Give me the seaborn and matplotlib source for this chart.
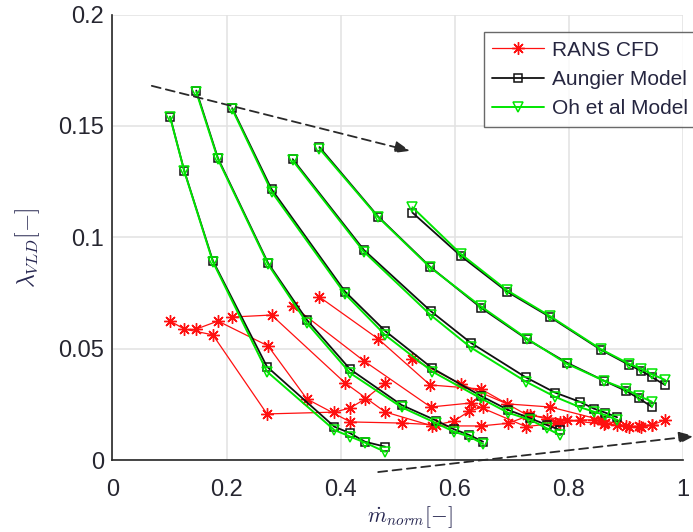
import matplotlib
matplotlib.use("Agg")
import matplotlib.pyplot as plt
from matplotlib.lines import Line2D
import pandas as pd
import seaborn as sns

# Normalised mass flow of each speed line (shared by the CFD runs and both loss models)
m_A = [0.101, 0.126, 0.176, 0.271, 0.389, 0.417, 0.443, 0.478]
m_B = [0.147, 0.185, 0.273, 0.341, 0.417, 0.507, 0.568, 0.599, 0.626, 0.650]
m_C = [0.210, 0.279, 0.408, 0.478, 0.561, 0.646, 0.694, 0.733, 0.762, 0.785]
m_D = [0.316, 0.441, 0.558, 0.628, 0.725, 0.776, 0.820, 0.844, 0.864, 0.885]
m_E = [0.363, 0.466, 0.557, 0.646, 0.727, 0.797, 0.862, 0.900, 0.923, 0.946]
m_F = [0.526, 0.611, 0.692, 0.768, 0.857, 0.906, 0.927, 0.946, 0.969]

# Vaneless diffuser loss coefficient, RANS CFD
cfd_A = [0.0624, 0.0588, 0.0562, 0.0207, 0.0215, 0.0234, 0.0274, 0.0346]
cfd_B = [0.0588, 0.0624, 0.0512, 0.0274, 0.0171, 0.0166, 0.0158, 0.0175, 0.0220, 0.0238]
cfd_C = [0.0642, 0.0651, 0.0346, 0.0216, 0.0153, 0.0153, 0.0165, 0.0202, 0.0185, 0.0172]
cfd_D = [0.0692, 0.0445, 0.0238, 0.0256, 0.0150, 0.0165, 0.0180, 0.0180, 0.0165, 0.0155]
cfd_E = [0.0732, 0.0544, 0.0337, 0.0319, 0.0202, 0.0180, 0.0160, 0.0152, 0.0152, 0.0157]
cfd_F = [0.0454, 0.0341, 0.0252, 0.0238, 0.0180, 0.0150, 0.0148, 0.0157, 0.0180]

# Aungier model
aungier_A = [0.1542, 0.1298, 0.0895, 0.0419, 0.0150, 0.0120, 0.0082, 0.0060]
aungier_B = [0.1659, 0.1355, 0.0884, 0.0629, 0.0407, 0.0247, 0.0177, 0.0138, 0.0112, 0.0082]
aungier_C = [0.1580, 0.1216, 0.0756, 0.0580, 0.0412, 0.0288, 0.0225, 0.0187, 0.0157, 0.0135]
aungier_D = [0.1351, 0.0943, 0.0669, 0.0527, 0.0371, 0.0303, 0.0261, 0.0231, 0.0213, 0.0192]
aungier_E = [0.1405, 0.1093, 0.0868, 0.0684, 0.0542, 0.0437, 0.0356, 0.0311, 0.0277, 0.0239]
aungier_F = [0.1111, 0.0916, 0.0756, 0.0641, 0.0494, 0.0427, 0.0401, 0.0372, 0.0337]

# Oh et al model
oh_A = [0.1540, 0.1296, 0.0890, 0.0397, 0.0135, 0.0105, 0.0078, 0.0037]
oh_B = [0.1652, 0.1350, 0.0878, 0.0615, 0.0390, 0.0237, 0.0165, 0.0127, 0.0105, 0.0072]
oh_C = [0.1575, 0.1205, 0.0745, 0.0562, 0.0397, 0.0277, 0.0212, 0.0180, 0.0142, 0.0112]
oh_D = [0.1345, 0.0935, 0.0651, 0.0506, 0.0352, 0.0284, 0.0237, 0.0217, 0.0202, 0.0180]
oh_E = [0.1398, 0.1090, 0.0865, 0.0690, 0.0545, 0.0432, 0.0356, 0.0318, 0.0288, 0.0262]
oh_F = [0.1135, 0.0925, 0.0762, 0.0645, 0.0497, 0.0432, 0.0410, 0.0385, 0.0360]

x_ticks = [0, 0.2, 0.4, 0.6, 0.8, 1]
x_tick_labels = ["0", "0.2", "0.4", "0.6", "0.8", "1"]
y_ticks = [0, 0.05, 0.1, 0.15, 0.2]
y_tick_labels = ["0", "0.05", "0.1", "0.15", "0.2"]

# Trend arrows (tail, head) in data units
arrow_upper = ((0.069, 0.168), (0.522, 0.1388))
arrow_lower = ((0.466, -0.0054), (1.02, 0.0108))

speed_lines = {
    "A": (m_A, cfd_A, aungier_A, oh_A),
    "B": (m_B, cfd_B, aungier_B, oh_B),
    "C": (m_C, cfd_C, aungier_C, oh_C),
    "D": (m_D, cfd_D, aungier_D, oh_D),
    "E": (m_E, cfd_E, aungier_E, oh_E),
    "F": (m_F, cfd_F, aungier_F, oh_F),
}

rows = []
for speed, (m, cfd, aun, oh) in speed_lines.items():
    for model, vals in (("RANS CFD", cfd), ("Aungier Model", aun), ("Oh et al Model", oh)):
        for x, y in zip(m, vals):
            rows.append({"m_norm": x, "lam": y, "model": model, "speed": speed})
df = pd.DataFrame(rows)

sns.set_style("white")
plt.rcParams["font.family"] = ["Liberation Sans", "DejaVu Sans"]
plt.rcParams["mathtext.fontset"] = "cm"

fig = plt.figure(figsize=(6.93, 5.32), dpi=100)
ax = fig.add_axes([0.1623, 0.1353, 0.8228, 0.8373])

styles = {
    "RANS CFD": dict(color="#ff1010", marker=(8, 2, 0), markersize=9,
                     linewidth=0.9, markeredgewidth=1.0),
    "Aungier Model": dict(color="#111111", marker="s", markersize=6,
                          linewidth=1.3, markerfacecolor="none", markeredgewidth=1.1),
    "Oh et al Model": dict(color="#00e600", marker="v", markersize=7,
                           linewidth=1.4, markerfacecolor="none", markeredgewidth=1.1),
}

for model, st in styles.items():
    sns.lineplot(data=df[df["model"] == model], x="m_norm", y="lam",
                 units="speed", estimator=None, sort=False, legend=False,
                 ax=ax, markeredgecolor=st["color"], **st)

ax.set_xlim(0, 1)
ax.set_ylim(0, 0.2)
ax.set_xticks(x_ticks)
ax.set_xticklabels(x_tick_labels)
ax.set_yticks(y_ticks)
ax.set_yticklabels(y_tick_labels)
ax.grid(True, color="#e2e2e2", linewidth=1.1)
ax.set_axisbelow(True)
for side in ("top", "right"):
    ax.spines[side].set_visible(False)
for side in ("left", "bottom"):
    ax.spines[side].set_color("#262626")
    ax.spines[side].set_linewidth(1.2)

ax.tick_params(axis="both", direction="in", length=5, width=1.0,
               color="#262626", labelcolor="#262630", labelsize=17)
ax.tick_params(axis="x", pad=14)
ax.tick_params(axis="y", pad=6)

ax.set_xlabel(r"$\dot{m}_{norm}[-]$", fontsize=15.5, color="#262650", va="center")
ax.xaxis.set_label_coords(0.522, -0.128)
ax.set_ylabel(r"$\lambda_{VLD}[-]$", fontsize=17, color="#262650")
ax.yaxis.set_label_coords(-0.124, 0.476)

for (tail, head) in (arrow_upper, arrow_lower):
    ax.annotate("", xy=head, xytext=tail,
                arrowprops=dict(arrowstyle="-|>,head_length=0.9,head_width=0.35",
                                color="#2a2a2a", lw=1.3, linestyle=(0, (5, 3)),
                                shrinkA=0, shrinkB=0),
                annotation_clip=False)

handles = [Line2D([], [], **styles[k], markeredgecolor=styles[k]["color"]) for k in styles]
leg = fig.legend(handles, list(styles.keys()), loc="upper left",
                 bbox_to_anchor=(484 / 693, 1 - 32.3 / 532), bbox_transform=fig.transFigure,
                 borderaxespad=0, fontsize=15, frameon=True, fancybox=False,
                 handlelength=2.5, handletextpad=0.35, borderpad=0.4,
                 labelspacing=0.5, numpoints=1)
leg.get_frame().set_edgecolor("#444444")
leg.get_frame().set_linewidth(1.0)
for t in leg.get_texts():
    t.set_color("#262640")

fig.savefig("out.png", dpi=100)
